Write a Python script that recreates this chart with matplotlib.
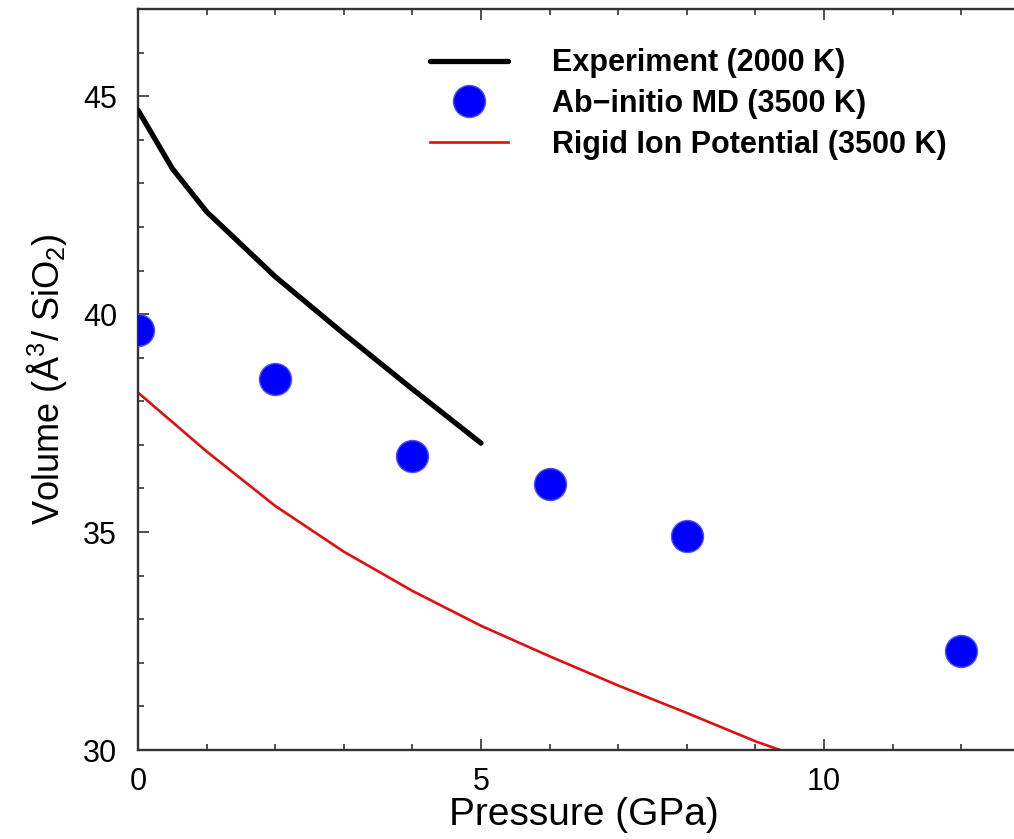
import numpy as np
import matplotlib
matplotlib.use("Agg")
import matplotlib.pyplot as plt
from matplotlib.legend_handler import HandlerLine2D
from matplotlib.ticker import MultipleLocator

# Experimental equation of state (2000 K)
exp_pressure = [0.0, 0.5, 1.0, 2.0, 3.0, 4.0, 5.0]
exp_volume = [44.68, 43.34, 42.35, 40.86, 39.55, 38.28, 37.04]

# Ab-initio molecular dynamics (3500 K)
md_pressure = [0, 2, 4, 6, 8, 12]
md_volume = [39.63, 38.51, 36.74, 36.10, 34.91, 32.27]

# Rigid ion potential (3500 K)
rip_pressure = [0, 1, 2, 3, 4, 5, 6, 7, 8, 9, 10]
rip_volume = [38.2, 36.85, 35.6, 34.55, 33.65, 32.85, 32.15, 31.48, 30.85, 30.2, 29.64]

labels = ["Experiment (2000 K)", "Ab\u2212initio MD (3500 K)",
          "Rigid Ion Potential (3500 K)"]

plt.rcParams["font.family"] = ["Liberation Sans", "DejaVu Sans"]
plt.rcParams["mathtext.fontset"] = "custom"
plt.rcParams["mathtext.rm"] = "Liberation Sans"
plt.rcParams["mathtext.it"] = "Liberation Sans"
plt.rcParams["mathtext.default"] = "regular"


class RightMarkerHandler(HandlerLine2D):
    """Put the single legend marker at the right end of the handle box."""
    def get_xdata(self, legend, xdescent, ydescent, width, height, fontsize):
        xdata = np.array([-xdescent, -xdescent + width])
        return xdata, np.array([-xdescent + width])


fig = plt.figure(figsize=(10.14, 8.39), dpi=100)
W, H = 1014, 839
x_left, y_bottom, y_top = 138, 750, 9
xmax = 13.0
px_per_unit = 68.6
ax = fig.add_axes([x_left / W, (H - y_bottom) / H,
                   xmax * px_per_unit / W, (y_bottom - y_top) / H])

exp_line, = ax.plot(exp_pressure, exp_volume, color="black", lw=3.8,
                    solid_capstyle="round", solid_joinstyle="round",
                    label=labels[0], zorder=3)
md_pts, = ax.plot(md_pressure, md_volume, ls="none", marker="o",
                  markersize=23, markerfacecolor="#0000ff",
                  markeredgecolor="#4b4bff", markeredgewidth=1.0,
                  label=labels[1], zorder=4)
rip_line, = ax.plot(rip_pressure, rip_volume, color="#e01010", lw=1.9,
                    solid_joinstyle="round", label=labels[2], zorder=2)

ax.set_xlim(0, xmax)
ax.set_ylim(30, 47)
ax.xaxis.set_major_locator(MultipleLocator(5))
ax.xaxis.set_minor_locator(MultipleLocator(1))
ax.yaxis.set_major_locator(MultipleLocator(5))
ax.yaxis.set_minor_locator(MultipleLocator(1))

for sp in ax.spines.values():
    sp.set_linewidth(1.7)
    sp.set_color("#333333")

ax.tick_params(which="both", direction="in", top=True, right=True,
               color="#333333", width=1.2)
ax.tick_params(which="major", length=8, labelsize=22, pad=12)
ax.tick_params(axis="y", which="major", pad=15)
ax.tick_params(which="minor", length=4.5)

ax.set_xlabel("Pressure (GPa)", fontsize=28, labelpad=0)
ax.set_ylabel(r"Volume (Å$^{3}$/ SiO$_{2}$)", fontsize=26, labelpad=10)

leg = ax.legend(handles=[exp_line, md_pts, rip_line], loc="upper left",
                bbox_to_anchor=(0.327, 0.947), frameon=False,
                prop={"weight": "bold", "size": 22},
                handlelength=2.55, handletextpad=1.47, labelspacing=0.35,
                borderpad=0, borderaxespad=0, numpoints=1,
                handler_map={md_pts: RightMarkerHandler()})

fig.savefig("out.png", dpi=100)
